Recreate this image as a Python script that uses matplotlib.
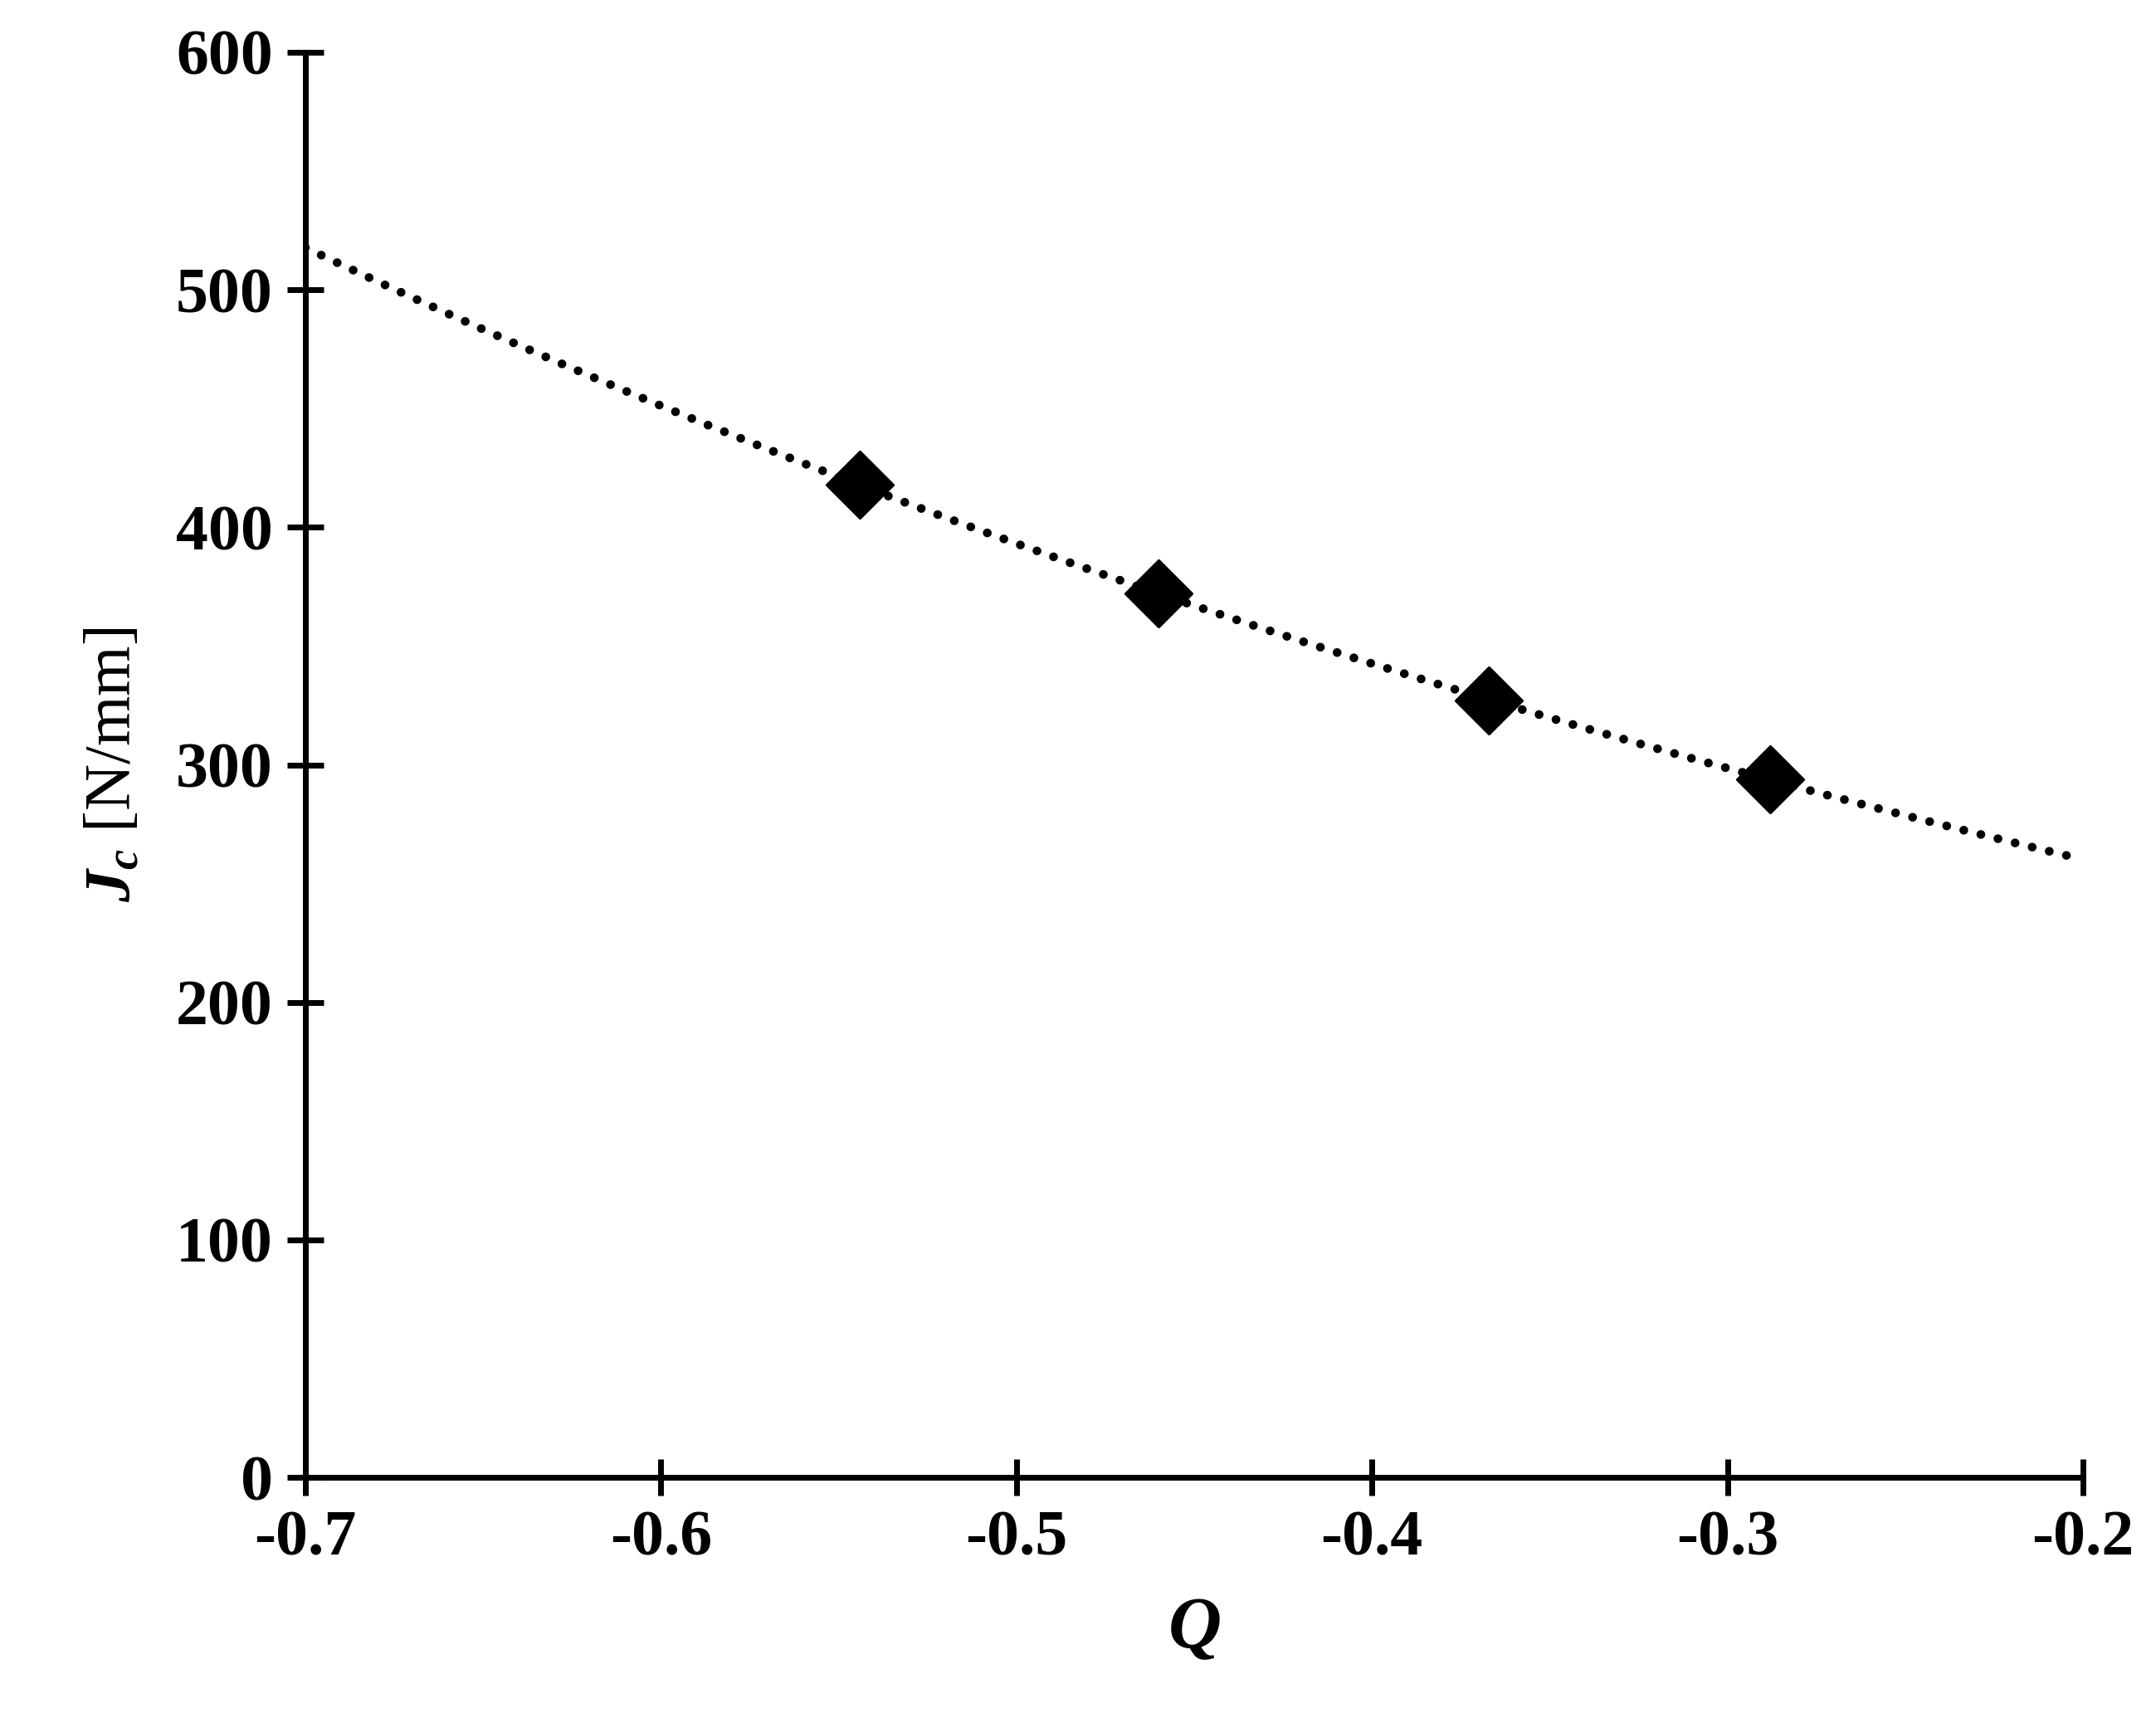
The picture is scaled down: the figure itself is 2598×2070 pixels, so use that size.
import numpy as np
import matplotlib
matplotlib.use('Agg')
import matplotlib.pyplot as plt

# measured points
q_vals = [-0.544, -0.460, -0.367, -0.288]
jc_vals = [418, 372, 327, 294]

plt.rcParams['font.family'] = ['Liberation Serif', 'DejaVu Serif']
plt.rcParams['font.weight'] = 'bold'
plt.rcParams['mathtext.fontset'] = 'custom'
plt.rcParams['mathtext.it'] = 'Liberation Serif:italic:bold'
plt.rcParams['mathtext.rm'] = 'Liberation Serif:bold'

fig = plt.figure(figsize=(12.99, 10.35), dpi=200)
ax = fig.add_axes([0.1416, 0.14, 0.8245, 0.8296])

# exponential trendline (Excel style)
b, lna = np.polyfit(q_vals, np.log(jc_vals), 1)
xt = np.linspace(-0.7, -0.2, 200)
ax.plot(xt, np.exp(lna + b * xt), color='black', linestyle=(0, (0.01, 2.0)), linewidth=3.8,
        dash_capstyle='round', zorder=1)
ax.scatter(q_vals, jc_vals, marker='D', s=420, color='black', zorder=2)

ax.set_xlim(-0.7, -0.2)
ax.set_ylim(0, 600)
ax.set_xticks(np.arange(-0.7, -0.19, 0.1))
ax.set_xticklabels(['-0.7', '-0.6', '-0.5', '-0.4', '-0.3', '-0.2'])
ax.set_yticks(range(0, 601, 100))
for s in ['top', 'right']:
    ax.spines[s].set_visible(False)
for s in ['left', 'bottom']:
    ax.spines[s].set_linewidth(2.5)
ax.tick_params(axis='both', direction='inout', length=16, width=2.5, labelsize=28, pad=6)

ax.set_xlabel(r'$Q$', fontsize=32, labelpad=12)
ax.set_ylabel(r'$J_c$ [N/mm]', fontsize=28, labelpad=14)

fig.savefig('out.png', dpi=200)
